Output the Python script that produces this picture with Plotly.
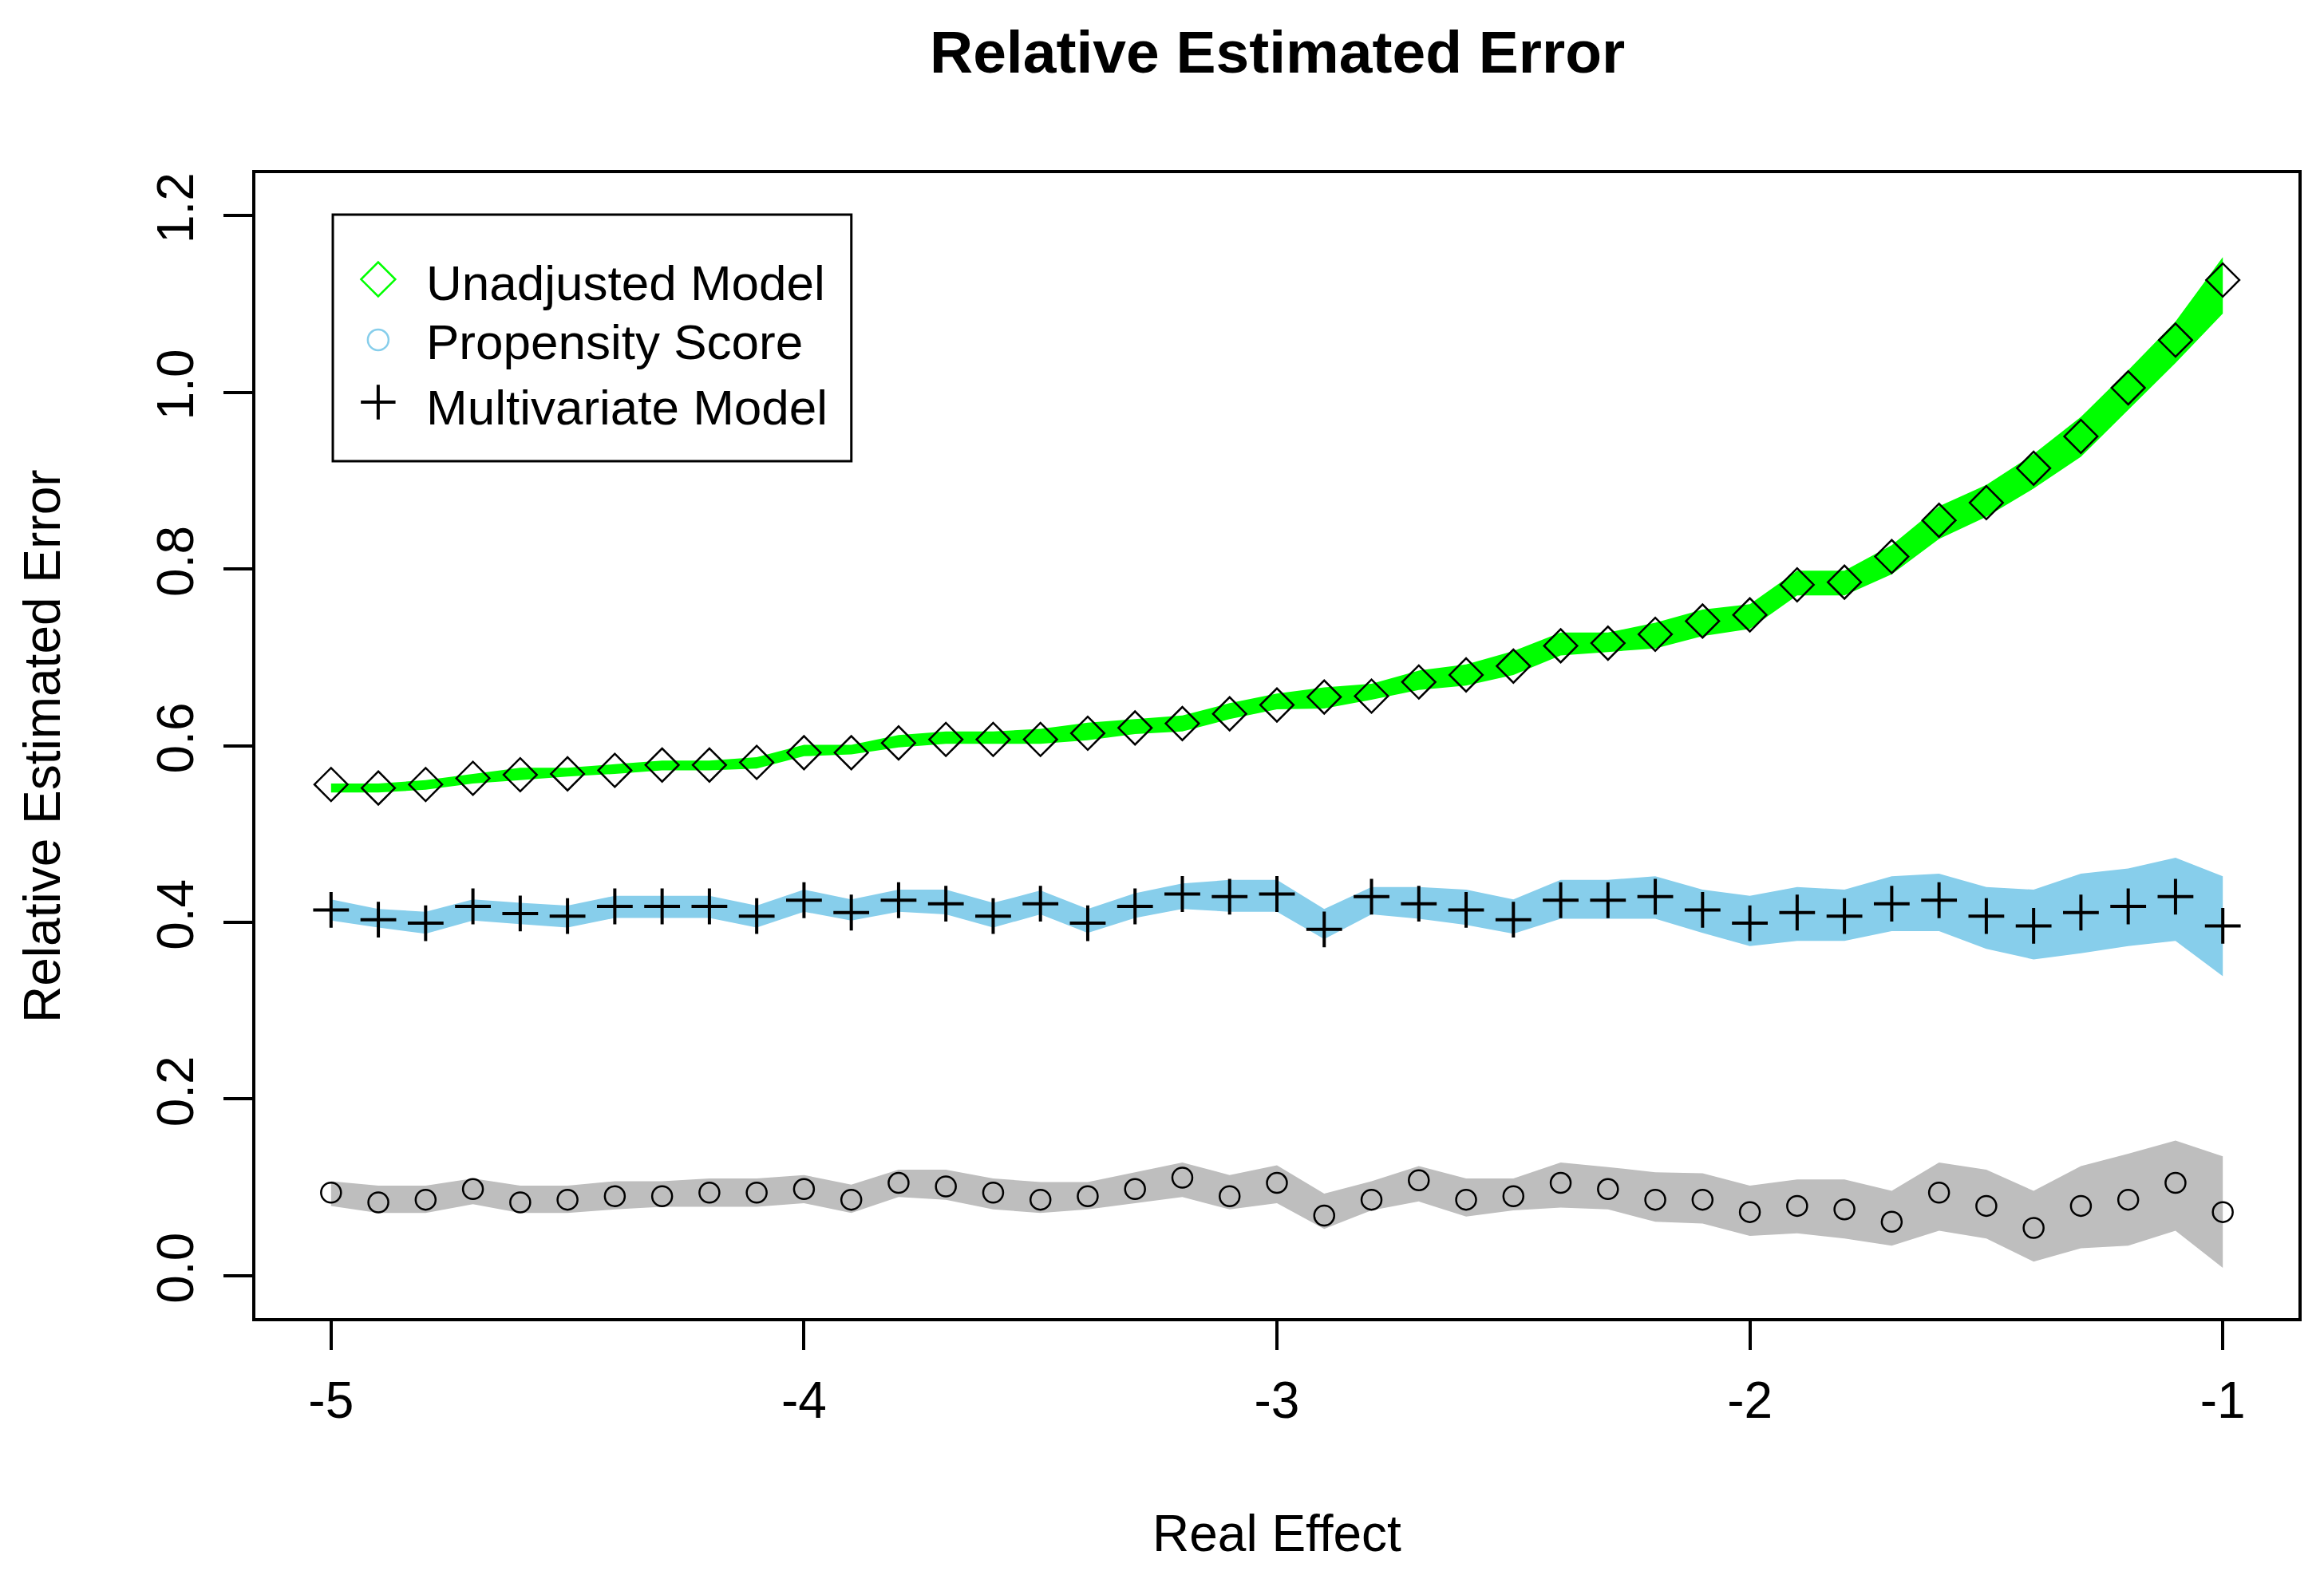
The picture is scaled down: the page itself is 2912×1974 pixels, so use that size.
import plotly.graph_objects as go

# ---------------- data ----------------
real_effect = [-5.0, -4.9, -4.8, -4.7, -4.6, -4.5, -4.4, -4.3, -4.2, -4.1,
               -4.0, -3.9, -3.8, -3.7, -3.6, -3.5, -3.4, -3.3, -3.2, -3.1,
               -3.0, -2.9, -2.8, -2.7, -2.6, -2.5, -2.4, -2.3, -2.2, -2.1,
               -2.0, -1.9, -1.8, -1.7, -1.6, -1.5, -1.4, -1.3, -1.2, -1.1, -1.0]

unadj_mean = [0.556, 0.552, 0.556, 0.563, 0.567, 0.568, 0.572, 0.578, 0.578, 0.581,
              0.592, 0.592, 0.603, 0.607, 0.607, 0.607, 0.614, 0.620, 0.625, 0.636,
              0.646, 0.655, 0.656, 0.672, 0.680, 0.690, 0.713, 0.716, 0.726, 0.741,
              0.748, 0.782, 0.785, 0.814, 0.855, 0.875, 0.914, 0.950, 1.005, 1.059, 1.127]
unadj_upper = [0.557, 0.557, 0.561, 0.568, 0.575, 0.575, 0.579, 0.583, 0.583, 0.587,
               0.601, 0.601, 0.612, 0.616, 0.616, 0.619, 0.626, 0.630, 0.634, 0.648,
               0.659, 0.666, 0.670, 0.685, 0.692, 0.707, 0.728, 0.728, 0.739, 0.754,
               0.760, 0.798, 0.798, 0.827, 0.871, 0.895, 0.930, 0.972, 1.025, 1.080, 1.153]
unadj_lower = [0.547, 0.547, 0.550, 0.557, 0.561, 0.565, 0.568, 0.572, 0.572, 0.574,
               0.588, 0.590, 0.598, 0.602, 0.602, 0.602, 0.606, 0.613, 0.616, 0.630,
               0.641, 0.642, 0.652, 0.663, 0.668, 0.680, 0.702, 0.706, 0.710, 0.724,
               0.732, 0.770, 0.770, 0.794, 0.834, 0.859, 0.891, 0.927, 0.980, 1.033, 1.089]

multi_mean = [0.414, 0.403, 0.399, 0.418, 0.410, 0.407, 0.418, 0.418, 0.418, 0.407,
              0.425, 0.411, 0.425, 0.421, 0.407, 0.421, 0.399, 0.418, 0.432, 0.429,
              0.432, 0.392, 0.429, 0.421, 0.414, 0.403, 0.425, 0.425, 0.429, 0.414,
              0.399, 0.411, 0.407, 0.421, 0.425, 0.407, 0.396, 0.411, 0.418, 0.429, 0.396]
multi_upper = [0.426, 0.415, 0.412, 0.426, 0.422, 0.419, 0.430, 0.430, 0.430, 0.419,
               0.437, 0.426, 0.437, 0.437, 0.422, 0.436, 0.415, 0.433, 0.444, 0.448,
               0.448, 0.415, 0.440, 0.440, 0.437, 0.426, 0.448, 0.448, 0.452, 0.437,
               0.430, 0.440, 0.437, 0.452, 0.455, 0.440, 0.437, 0.455, 0.461, 0.473, 0.452]
multi_lower = [0.402, 0.394, 0.387, 0.402, 0.398, 0.394, 0.405, 0.405, 0.405, 0.394,
               0.412, 0.402, 0.412, 0.409, 0.394, 0.409, 0.388, 0.405, 0.415, 0.412,
               0.412, 0.381, 0.409, 0.404, 0.397, 0.387, 0.404, 0.404, 0.404, 0.388,
               0.373, 0.379, 0.379, 0.390, 0.390, 0.370, 0.358, 0.365, 0.373, 0.379, 0.339]

prop_mean = [0.094, 0.083, 0.086, 0.098, 0.083, 0.086, 0.090, 0.090, 0.094, 0.094,
             0.098, 0.086, 0.105, 0.101, 0.094, 0.086, 0.090, 0.098, 0.111, 0.090,
             0.105, 0.068, 0.086, 0.108, 0.086, 0.090, 0.105, 0.098, 0.086, 0.086,
             0.072, 0.079, 0.075, 0.061, 0.094, 0.079, 0.054, 0.079, 0.086, 0.105, 0.072]
prop_upper = [0.107, 0.102, 0.102, 0.110, 0.102, 0.102, 0.107, 0.107, 0.110, 0.110,
              0.114, 0.103, 0.120, 0.120, 0.110, 0.106, 0.106, 0.117, 0.128, 0.114,
              0.125, 0.093, 0.107, 0.124, 0.110, 0.110, 0.128, 0.123, 0.117, 0.116,
              0.102, 0.109, 0.109, 0.096, 0.128, 0.120, 0.096, 0.124, 0.138, 0.153, 0.135]
prop_lower = [0.079, 0.071, 0.071, 0.081, 0.071, 0.071, 0.075, 0.078, 0.078, 0.078,
              0.082, 0.071, 0.089, 0.086, 0.075, 0.071, 0.075, 0.082, 0.089, 0.075,
              0.082, 0.053, 0.074, 0.084, 0.067, 0.074, 0.077, 0.075, 0.061, 0.059,
              0.045, 0.048, 0.042, 0.034, 0.051, 0.042, 0.016, 0.031, 0.034, 0.051, 0.009]

x_tick_vals = [-5, -4, -3, -2, -1]
x_tick_text = ["-5", "-4", "-3", "-2", "-1"]
y_tick_vals = [0.0, 0.2, 0.4, 0.6, 0.8, 1.0, 1.2]
y_tick_text = ["0.0", "0.2", "0.4", "0.6", "0.8", "1.0", "1.2"]

legend_labels = ["Unadjusted Model", "Propensity Score", "Multivariate Model"]

# ---------------- styling ----------------
FONT = "Liberation Sans, Arial, Helvetica, sans-serif"
GREEN = "#00FF00"
SKY = "#87CEEB"
GRAY = "#BEBEBE"


def band(xs, lo, hi, color):
    return go.Scatter(x=list(xs) + list(xs)[::-1], y=list(hi) + list(lo)[::-1],
                      fill="toself", fillcolor=color, mode="none",
                      line=dict(width=0), hoverinfo="skip", showlegend=False)


fig = go.Figure()
fig.add_trace(band(real_effect, unadj_lower, unadj_upper, GREEN))
fig.add_trace(band(real_effect, multi_lower, multi_upper, SKY))
fig.add_trace(band(real_effect, prop_lower, prop_upper, GRAY))

fig.add_trace(go.Scatter(x=real_effect, y=unadj_mean, mode="markers", showlegend=False,
                         marker=dict(symbol="diamond-open", size=32, color="black",
                                     line=dict(color="black", width=2.5))))
fig.add_trace(go.Scatter(x=real_effect, y=multi_mean, mode="markers", showlegend=False,
                         marker=dict(symbol="cross-thin-open", size=32, color="black",
                                     line=dict(color="black", width=4))))
fig.add_trace(go.Scatter(x=real_effect, y=prop_mean, mode="markers", showlegend=False,
                         marker=dict(symbol="circle-open", size=25, color="black",
                                     line=dict(color="black", width=2.5))))

# ---------------- hand-built legend (paper-coordinate overlay axes) ----------------
leg_sym_x = 0.0601
leg_rows_sym = [0.9073, 0.8544, 0.8000]
leg_rows_txt = [0.9045, 0.8523, 0.7958]
leg_styles = [
    dict(symbol="diamond-open", size=33, color=GREEN, line=dict(color=GREEN, width=2.5)),
    dict(symbol="circle-open", size=26, color=SKY, line=dict(color=SKY, width=2.5)),
    dict(symbol="cross-thin-open", size=31, color="black", line=dict(color="black", width=4)),
]
for ry, st in zip(leg_rows_sym, leg_styles):
    fig.add_trace(go.Scatter(x=[leg_sym_x], y=[ry], xaxis="x2", yaxis="y2", mode="markers",
                             marker=st, showlegend=False, cliponaxis=False, hoverinfo="skip"))

annotations = []
for ry, lab in zip(leg_rows_txt, legend_labels):
    annotations.append(dict(text=lab, xref="paper", yref="paper", x=0.0828, y=ry,
                            xanchor="left", yanchor="middle", showarrow=False,
                            font=dict(family=FONT, size=62, color="black")))

annotations.append(dict(text="<b>Relative Estimated Error</b>", xref="paper", yref="paper",
                        x=0.5, y=1.1059, xanchor="center", yanchor="middle", showarrow=False,
                        font=dict(family=FONT, size=75, color="black")))
annotations.append(dict(text="Real Effect", xref="paper", yref="paper",
                        x=0.5, y=-0.188, xanchor="center", yanchor="middle", showarrow=False,
                        font=dict(family=FONT, size=64, color="black")))
annotations.append(dict(text="Relative Estimated Error", xref="paper", yref="paper",
                        x=-0.1045, y=0.5, xanchor="center", yanchor="middle", showarrow=False,
                        textangle=-90, font=dict(family=FONT, size=64, color="black")))

axis_common = dict(showgrid=False, zeroline=False, showline=True, linecolor="black",
                   linewidth=4, mirror=True, ticks="outside", ticklen=36, tickwidth=4,
                   tickcolor="black", tickfont=dict(family=FONT, size=64, color="black"))

# page body has an 8px default margin, so the figure is sized/placed to compensate
fig.update_layout(
    width=2896, height=1958,
    margin=dict(l=312, r=24, t=209, b=314, pad=0),
    paper_bgcolor="white", plot_bgcolor="white",
    showlegend=False,
    xaxis=dict(range=[-5.16, -0.84], tickvals=x_tick_vals, ticktext=x_tick_text,
               ticklabelstandoff=8, **axis_common),
    yaxis=dict(range=[-0.048, 1.248], tickvals=y_tick_vals, ticktext=y_tick_text,
               tickangle=-90, ticklabelstandoff=12, **axis_common),
    xaxis2=dict(overlaying="x", range=[0, 1], visible=False, fixedrange=True),
    yaxis2=dict(overlaying="y", range=[0, 1], visible=False, fixedrange=True),
    shapes=[dict(type="rect", xref="paper", yref="paper", x0=0.0379, x1=0.2917,
                 y0=0.7484, y1=0.9638, line=dict(color="black", width=3))],
    annotations=annotations,
)

fig.write_html("out.html")
